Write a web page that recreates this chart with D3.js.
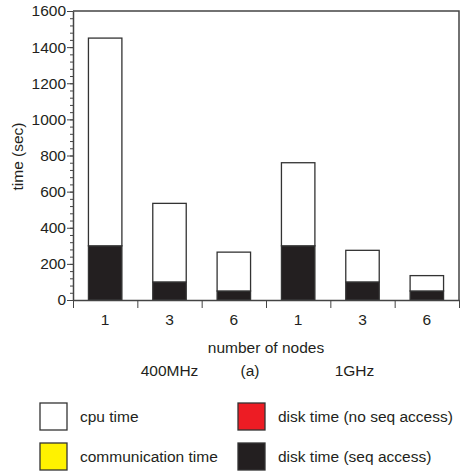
<!DOCTYPE html>
<html>
<head>
<meta charset="utf-8">
<script src="https://cdn.jsdelivr.net/npm/d3@7"></script>
<style>
  body { margin: 0; background: #fff; }
  text { font-family: "Liberation Sans", Arial, sans-serif; fill: #231f20; }
</style>
</head>
<body>
<div id="chart"></div>
<script>
// node counts per bar, and the clock speed group they belong to
const nodes = ["1", "3", "6", "1", "3", "6"];
const groups = ["400MHz", "1GHz"];
const diskSeq = [300, 100, 50, 300, 100, 50];
const cpuTime = [1150, 435, 215, 460, 175, 85];
const yTicks = [0, 200, 400, 600, 800, 1000, 1200, 1400, 1600];

const legendItems = ["cpu time", "communication time", "disk time (no seq access)", "disk time (seq access)"];
const legendColors = ["#ffffff", "#fff200", "#ed1c24", "#231f20"];

{
  const margin = {top: 11, right: 1, bottom: 171, left: 73};
  const width = 460, height = 471;
  const visWidth = width - margin.left - margin.right;
  const visHeight = height - margin.top - margin.bottom;
  const fs = 15.5;

  const svg = d3.select("#chart").append("svg")
      .attr("width", width)
      .attr("height", height);

  const g = svg.append("g")
      .attr("transform", `translate(${margin.left}, ${margin.top})`);

  const rows = nodes.map((n, i) => ({i: i, disk: diskSeq[i], cpu: cpuTime[i]}));
  const stacked = d3.stack().keys(["disk", "cpu"])(rows);

  const x = d3.scaleBand()
      .domain(d3.range(nodes.length))
      .range([0, visWidth])
      .paddingInner(0.48)
      .paddingOuter(0.24);

  // boundaries between bars, for the tick marks
  const xb = d3.scaleLinear().domain([0, nodes.length]).range([0, visWidth]);

  const y = d3.scaleLinear()
      .domain([0, 1600])
      .range([visHeight, 0]);

  // frame: top and right
  g.append("path")
      .attr("d", `M0,0H${visWidth}V${visHeight}`)
      .attr("fill", "none")
      .attr("stroke", "#444")
      .attr("stroke-width", 1.5);

  // bars
  const fills = {disk: "#231f20", cpu: "#ffffff"};
  g.append("g")
    .selectAll("g")
    .data(stacked)
    .join("g")
      .attr("fill", d => fills[d.key])
    .selectAll("rect")
    .data(d => d)
    .join("rect")
      .attr("x", d => x(d.data.i))
      .attr("y", d => y(d[1]))
      .attr("width", x.bandwidth())
      .attr("height", d => y(d[0]) - y(d[1]))
      .attr("stroke", "#333")
      .attr("stroke-width", 1.3);

  // y axis, minor ticks first
  g.append("g")
      .call(d3.axisLeft(y).tickValues(d3.range(0, 1601, 40)).tickSize(3).tickFormat(""))
      .call(a => a.select(".domain").remove())
      .call(a => a.selectAll("line").attr("stroke", "#444"));

  g.append("g")
      .call(d3.axisLeft(y).tickValues(yTicks).tickSize(6).tickSizeOuter(0).tickPadding(1).tickFormat(d3.format("d")))
      .call(a => a.select(".domain").attr("stroke", "#444").attr("stroke-width", 1.5))
      .call(a => a.selectAll("line").attr("stroke", "#444"))
      .call(a => a.selectAll("text").attr("font-size", fs));

  // x axis
  g.append("g")
      .attr("transform", `translate(0, ${visHeight})`)
      .call(d3.axisBottom(xb).tickValues(d3.range(nodes.length + 1)).tickSize(8).tickSizeOuter(0).tickFormat(""))
      .call(a => a.select(".domain").attr("stroke", "#444").attr("stroke-width", 1.5))
      .call(a => a.selectAll("line").attr("stroke", "#444"));

  g.append("g")
      .attr("transform", `translate(0, ${visHeight})`)
      .call(d3.axisBottom(x).tickSize(0).tickPadding(14).tickFormat(i => nodes[i]))
      .call(a => a.select(".domain").remove())
      .call(a => a.selectAll("text").attr("font-size", fs));

  g.append("text")
      .attr("x", visWidth / 2)
      .attr("y", visHeight + 53)
      .attr("text-anchor", "middle")
      .attr("font-size", fs)
      .text("number of nodes");

  // group labels under the axis
  g.selectAll(".grp")
    .data(groups)
    .join("text")
      .attr("class", "grp")
      .attr("x", (d, k) => xb(k * 3 + 1.5) - (k ? 8 : 0))
      .attr("y", visHeight + 76)
      .attr("text-anchor", "middle")
      .attr("font-size", fs)
      .text(d => d);

  g.append("text")
      .attr("x", visWidth / 2 - 16)
      .attr("y", visHeight + 76)
      .attr("text-anchor", "middle")
      .attr("font-size", fs)
      .text("(a)");

  // y label
  g.append("text")
      .attr("transform", `translate(${-50}, ${y(800) + 1}) rotate(-90)`)
      .attr("text-anchor", "middle")
      .attr("font-size", fs)
      .text("time (sec)");

  // legend, two columns
  const legend = svg.append("g")
    .selectAll("g")
    .data(legendItems)
    .join("g")
      .attr("transform", (d, i) => `translate(${i < 2 ? 40 : 238}, ${403 + (i % 2) * 40})`);

  legend.append("rect")
      .attr("width", 27)
      .attr("height", 27)
      .attr("fill", (d, i) => legendColors[i])
      .attr("stroke", "#333")
      .attr("stroke-width", 1.3);

  legend.append("text")
      .attr("x", 40)
      .attr("y", 14)
      .attr("dy", "0.35em")
      .attr("font-size", fs)
      .text(d => d);
}
</script>
</body>
</html>
